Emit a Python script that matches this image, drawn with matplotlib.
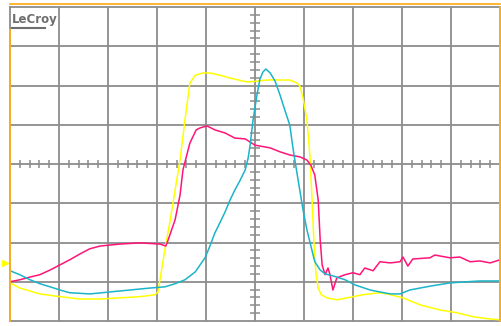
import matplotlib
matplotlib.use("Agg")
import matplotlib.pyplot as plt
import numpy as np

# screen grid: 10 x 8 divisions, centre at (5, 0)
N_XDIV = 10
N_YDIV = 8

# traces, in divisions (time, level)
ch1_t = [0.00, 0.20, 0.61, 1.02, 1.43, 1.84, 2.24, 2.65, 2.96, 3.02, 3.14, 3.27,
         3.47, 3.57, 3.67, 3.78, 3.94, 4.08, 4.29, 4.49, 4.84, 5.04, 5.24, 5.71,
         5.86, 5.92, 5.98, 6.06, 6.12, 6.16, 6.20, 6.24, 6.29, 6.35, 6.47, 6.67,
         6.88, 7.20, 7.55, 7.76, 8.02, 8.37, 8.78, 9.12, 9.45, 9.73, 10.00]
ch1_v = [-3.03, -3.16, -3.31, -3.38, -3.44, -3.44, -3.41, -3.38, -3.33, -3.26, -2.34, -1.42,
         0.10, 1.12, 2.06, 2.26, 2.32, 2.32, 2.26, 2.19, 2.09, 2.11, 2.14, 2.14,
         2.06, 1.98, 1.68, 1.12, 0.23, -0.79, -1.93, -2.75, -3.16, -3.33, -3.41, -3.46,
         -3.41, -3.33, -3.28, -3.33, -3.41, -3.59, -3.72, -3.79, -3.89, -3.94, -3.97]

ch2_t = [0.00, 0.20, 0.41, 0.61, 0.82, 1.02, 1.22, 1.43, 1.63, 1.84, 2.24, 2.65,
         3.06, 3.18, 3.22, 3.37, 3.47, 3.53, 3.67, 3.80, 3.88, 4.02, 4.18, 4.39,
         4.59, 4.80, 5.00, 5.31, 5.51, 5.71, 5.92, 6.06, 6.14, 6.22, 6.29, 6.33,
         6.37, 6.43, 6.49, 6.53, 6.59, 6.67, 6.84, 7.00, 7.14, 7.24, 7.41, 7.55,
         7.76, 7.96, 8.02, 8.12, 8.22, 8.57, 8.67, 8.98, 9.18, 9.39, 9.59, 9.80, 10.00]
ch2_v = [-3.00, -2.95, -2.88, -2.82, -2.70, -2.57, -2.44, -2.29, -2.16, -2.09, -2.04, -2.01,
         -2.04, -2.09, -1.96, -1.42, -0.79, -0.15, 0.53, 0.87, 0.92, 0.97, 0.87, 0.79,
         0.66, 0.64, 0.48, 0.41, 0.31, 0.23, 0.18, 0.10, -0.03, -0.28, -0.92, -1.93,
         -2.57, -2.82, -2.65, -2.82, -3.21, -2.90, -2.82, -2.77, -2.82, -2.65, -2.72, -2.49,
         -2.52, -2.49, -2.37, -2.60, -2.42, -2.39, -2.32, -2.39, -2.37, -2.49, -2.47, -2.52, -2.44]

ch3_t = [0.00, 0.10, 0.20, 0.41, 0.61, 0.82, 1.02, 1.22, 1.63, 2.04, 2.45, 2.86,
         3.16, 3.37, 3.57, 3.78, 3.98, 4.08, 4.18, 4.29, 4.39, 4.49, 4.59, 4.69,
         4.80, 4.86, 4.90, 4.96, 5.04, 5.10, 5.16, 5.22, 5.31, 5.41, 5.51, 5.61,
         5.71, 5.78, 5.88, 5.98, 6.06, 6.16, 6.22, 6.33, 6.43, 6.59, 6.84, 7.04,
         7.35, 7.55, 7.76, 7.96, 8.16, 8.37, 8.63, 8.98, 9.33, 9.59, 10.00]
ch3_v = [-2.72, -2.77, -2.82, -2.95, -3.05, -3.13, -3.21, -3.28, -3.31, -3.26, -3.21, -3.16,
         -3.13, -3.05, -2.95, -2.75, -2.39, -2.09, -1.76, -1.48, -1.22, -0.92, -0.66, -0.43,
         -0.15, 0.15, 0.48, 1.12, 1.76, 2.16, 2.34, 2.42, 2.32, 2.11, 1.76, 1.37,
         0.99, 0.36, -0.41, -1.17, -1.68, -2.19, -2.49, -2.70, -2.80, -2.85, -2.95, -3.08,
         -3.21, -3.26, -3.31, -3.31, -3.21, -3.16, -3.10, -3.03, -3.00, -2.98, -2.98]

ch1_ground = -2.52

GRID = "#8c8c8c"
ORANGE = "#ffb020"
YELLOW = "#ffff00"
MAGENTA = "#ff1478"
CYAN = "#1cb4c8"

fig = plt.figure(figsize=(5.01, 3.26), dpi=100)
ax = fig.add_axes([10 / 501, 5 / 326, 490 / 501, 314 / 326])
ax.set_xlim(0, N_XDIV)
ax.set_ylim(-N_YDIV / 2, N_YDIV / 2)
ax.set_xticks([])
ax.set_yticks([])
for sp in ax.spines.values():
    sp.set_color(GRID)
    sp.set_linewidth(1.3)

# graticule
for x in range(1, N_XDIV):
    ax.axvline(x, color=GRID, lw=1.3, zorder=1)
for y in range(-N_YDIV // 2 + 1, N_YDIV // 2):
    ax.axhline(y, color=GRID, lw=1.3, zorder=1)

# minor ticks on centre axes
minor_x = [i / 5 for i in range(1, N_XDIV * 5) if i % 5]
minor_y = [i / 5 for i in range(-N_YDIV // 2 * 5 + 1, N_YDIV // 2 * 5) if i % 5]
ax.vlines(minor_x, -0.1, 0.1, color=GRID, lw=1.1, zorder=1)
ax.hlines(minor_y, N_XDIV / 2 - 0.1, N_XDIV / 2 + 0.1, color=GRID, lw=1.1, zorder=1)

# traces
ax.plot(ch1_t, ch1_v, color=YELLOW, lw=1.1, zorder=3)
ax.plot(ch2_t, ch2_v, color=MAGENTA, lw=1.1, zorder=4)
ax.plot(ch3_t, ch3_v, color=CYAN, lw=1.1, zorder=5)

# frame markers in orange
ax.plot([0, N_XDIV], [4.08, 4.08], color=ORANGE, lw=1.3, clip_on=False, zorder=6)
ax.plot([0, 0], [3.41, -4], color=ORANGE, lw=1.3, clip_on=False, zorder=6)
ax.plot([N_XDIV, N_XDIV], [4, -4], color=ORANGE, lw=1.3, clip_on=False, zorder=6)

# ground marker for channel 1
ax.plot([-0.11], [ch1_ground], marker=">", color=YELLOW, ms=5, clip_on=False, zorder=6)

# logo
ax.text(0.04, 3.59, "LeCroy", color="#6e6e6e", fontsize=8.5, fontweight="bold",
        va="baseline", ha="left", zorder=6)
ax.plot([0.04, 0.72], [3.46, 3.46], color="#6e6e6e", lw=1.5, zorder=6)

fig.savefig("out.png", dpi=100, facecolor="white")
